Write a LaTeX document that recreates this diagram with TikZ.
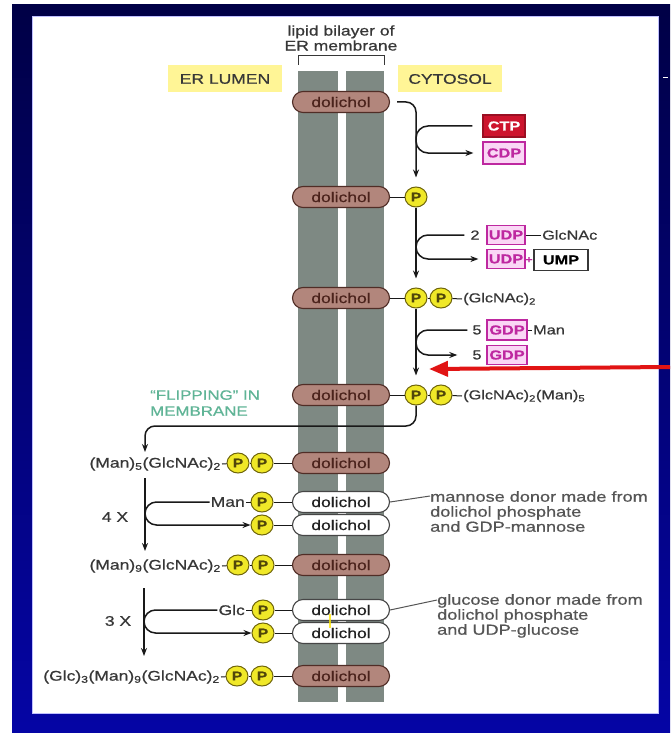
\documentclass[tikz,border=0pt]{standalone}
\usepackage{fontspec}
\setmainfont{Liberation Sans}[FakeStretch=1.25, FakeBold=0.7]
\usetikzlibrary{arrows.meta,shapes.geometric}
\definecolor{navyA}{RGB}{0,0,70}
\definecolor{navyB}{RGB}{5,5,165}
\definecolor{memb}{RGB}{126,137,131}
\definecolor{dolfill}{RGB}{178,134,124}
\definecolor{doldraw}{RGB}{80,45,38}
\definecolor{doltext}{RGB}{75,35,28}
\definecolor{pfill}{RGB}{240,232,40}
\definecolor{pdraw}{RGB}{110,100,10}
\definecolor{ptext}{RGB}{80,70,10}
\definecolor{mag}{RGB}{190,40,160}
\definecolor{pinkf}{RGB}{250,215,245}
\definecolor{ctpred}{RGB}{205,20,45}
\definecolor{hl}{RGB}{255,245,150}
\definecolor{txt}{RGB}{55,55,55}
\definecolor{annot}{RGB}{85,85,85}
\definecolor{lin}{RGB}{25,25,25}
\definecolor{flipg}{RGB}{95,180,150}
\definecolor{redarr}{RGB}{225,20,20}
\newcommand{\myfa}{\fontsize{13}{15}\selectfont}
\newcommand{\myfb}{\fontsize{14}{16}\selectfont}
\newcommand{\myfdol}{\fontsize{14}{16}\selectfont}
\newcommand{\myfhead}{\fontsize{14}{16}\selectfont}
\newcommand{\myfann}{\fontsize{14.5}{15}\selectfont}
\newcommand{\myfp}{\fontsize{12.5}{14}\selectfont\bfseries}
\newcommand{\myfbx}{\fontsize{13}{14}\selectfont\bfseries}
\begin{document}
\begin{tikzpicture}[x=1pt,y=-1pt,
  dol/.style={rounded corners=10.5pt, draw=doldraw, fill=dolfill, line width=1.1pt,
    minimum width=97pt, minimum height=21pt, inner sep=0pt, text=doltext, font=\myfdol},
  dolw/.style={dol, fill=white, draw=gray!55!black, text=gray!25!black},
  pnode/.style={ellipse, draw=pdraw, fill=pfill, line width=1pt, minimum width=22pt,
    minimum height=20pt, inner sep=0pt, text=ptext, font=\myfp},
  pinkbox/.style={draw=mag, fill=pinkf, text=mag, line width=1.2pt, inner sep=0pt,
    minimum width=38pt, minimum height=19pt, font=\myfbx},
  lbl/.style={font=\myfa, text=txt, inner sep=1pt},
  lblb/.style={font=\myfb, text=txt, inner sep=1pt},
  link/.style={draw=lin, line width=1pt},
  conn/.style={draw=lin, line width=1.5pt},
  arr/.style={conn, -{Stealth[length=8pt,width=6pt]}},
  hlbox/.style={fill=hl, font=\myfhead, text=txt, minimum height=27pt, inner sep=0pt}
]
\useasboundingbox (0,0) rectangle (670,733);
% frame
\fill[white] (0,0) rectangle (670,733);
\shade[top color=navyA, bottom color=navyB] (12,5) rectangle (670,733);
\fill[white, draw=blue!25, line width=1pt] (32,17) rectangle (658,713);
\draw[white, line width=1pt] (663,78) -- (668,78);

% membrane
\fill[memb] (298,71) rectangle (338,702);
\fill[memb] (346,71) rectangle (384,702);
\draw[txt, line width=0.8pt] (298,65) -- (298,55) -- (384,55) -- (384,65);
\node[font=\myfhead, text=txt, align=center, inner sep=0pt] (lipid) at (341,38)
  {lipid bilayer of\\[-1pt]ER membrane};
\node[hlbox, minimum width=114pt] (lumen) at (225,79) {ER LUMEN};
\node[hlbox, minimum width=104pt] (cyto) at (450,79) {CYTOSOL};

% cytosol-side dolichols
\node[dol] (d1) at (341,102) {dolichol};
\node[dol] (d2) at (341,197) {dolichol};
\node[dol] (d3) at (341,298) {dolichol};
\node[dol] (d4) at (341,395) {dolichol};
\node[pnode] (p21) at (416,197) {P};
\node[pnode] (p31) at (416,298) {P};
\node[pnode] (p32) at (441,298) {P};
\node[pnode] (p41) at (416,395) {P};
\node[pnode] (p42) at (441,395) {P};
\draw[link] (d2) -- (p21);
\draw[link] (d3) -- (p31); \draw[link] (p31) -- (p32);
\draw[link] (d4) -- (p41); \draw[link] (p41) -- (p42);
\node[lbl, anchor=west] (g3) at (462,299) {(GlcNAc)\textsubscript{2}};
\node[lbl, anchor=west] (g4) at (462,396) {(GlcNAc)\textsubscript{2}(Man)\textsubscript{5}};
\draw[link] (p32) -- (g3.west);
\draw[link] (p42) -- (g4.west);

% CTP / CDP
\node[pinkbox, fill=ctpred, draw=ctpred!75!black, text=white, minimum width=42pt, minimum height=22pt] (ctp) at (504,126) {CTP};
\node[pinkbox, minimum width=42pt, minimum height=22pt] (cdp) at (504,153) {CDP};
\draw[arr, rounded corners=10pt] ([xshift=7pt]d1.east) -| ([yshift=9pt]p21.north);
\draw[arr, rounded corners=12pt] ([xshift=-10pt]ctp.west) -- (ctp.west -| p21) -- (cdp.west -| p21) -- ([xshift=-9pt]cdp.west);

% UDP-GlcNAc
\node[lbl] (n2) at (475,235) {2};
\node[pinkbox] (udp1) at (506,235) {UDP};
\node[lbl, anchor=west] (glcnac) at (541,235) {GlcNAc};
\draw[link] (udp1) -- (glcnac);
\node[pinkbox] (udp2) at (506,259) {UDP};
\node[pinkbox, fill=white, draw=txt, text=black, minimum width=54pt, minimum height=21pt] (ump) at (561,260) {UMP};
\node[font=\fontsize{10}{12}\selectfont\bfseries, text=mag, inner sep=0pt] (plus) at (529,260) {+};
\draw[arr] (p21.south) -- ([yshift=9pt]p31.north);
\draw[arr, rounded corners=12pt] ([xshift=-5pt]n2.west) -- (n2.west -| p21) -- (udp2.west -| p21) -- ([xshift=-8pt]udp2.west);

% GDP-Man
\node[lbl] (n5a) at (477,330) {5};
\node[pinkbox, minimum width=40pt, minimum height=20pt] (gdp1) at (507,330) {GDP};
\node[lbl, anchor=west] (manc) at (532,330) {Man};
\draw[link] (gdp1) -- (manc);
\node[lbl] (n5b) at (477,355) {5};
\node[pinkbox, minimum width=40pt, minimum height=19pt] (gdp2) at (507,355) {GDP};
\draw[arr] (p31.south) -- ([yshift=9pt]p41.north);
\draw[arr, rounded corners=12pt] ([xshift=-4pt]n5a.west) -- (n5a.west -| p31) -- (n5b.west -| p31) -- ([xshift=-14pt]n5b.west);

% red arrow
\coordinate (redstart) at (670,367);
\coordinate (redtip) at (429,369);
\draw[redarr, line width=4pt, -{Triangle[length=19pt,width=15pt]}] (redstart) -- (redtip);

% flipping
\node[font=\fontsize{13.5}{15}\selectfont, text=flipg, align=left, anchor=west, inner sep=0pt] (flip) at (150,403)
  {“FLIPPING” IN\\[1pt]MEMBRANE};
\coordinate (fl) at (145,426);
\coordinate (fltip) at (145,452);
\draw[arr, rounded corners=10pt] (p41.south) -- (p41.south |- fl) -- (fl) -- (fltip);

% lumen-side rows
\node[dol] (d5) at (341,463) {dolichol};
\node[pnode] (p52) at (262,463) {P};
\node[pnode] (p51) at (238,463) {P};
\node[lblb, anchor=east] (t5) at (222,464) {(Man)\textsubscript{5}(GlcNAc)\textsubscript{2}};
\draw[link] (t5.east) -- (p51); \draw[link] (p51) -- (p52); \draw[link] (p52) -- (d5);

\node[dolw] (d6) at (341,502) {dolichol};
\node[pnode] (p6) at (262,502) {P};
\node[lblb, anchor=east] (man6) at (246,502) {Man};
\draw[link] (man6) -- (p6); \draw[link] (p6) -- (d6);

\node[dolw] (d7) at (341,525) {dolichol};
\node[pnode] (p7) at (262,525) {P};
\draw[link] (p7) -- (d7);

\node[dol] (d8) at (341,565) {dolichol};
\node[pnode] (p82) at (263,565) {P};
\node[pnode] (p81) at (238,565) {P};
\node[lblb, anchor=east] (t8) at (222,566) {(Man)\textsubscript{9}(GlcNAc)\textsubscript{2}};
\draw[link] (t8.east) -- (p81); \draw[link] (p81) -- (p82); \draw[link] (p82) -- (d8);

\node[dolw] (d9) at (341,610) {dolichol};
\node[pnode] (p9) at (263,610) {P};
\node[lblb, anchor=east] (glc9) at (246,610) {Glc};
\draw[link] (glc9) -- (p9); \draw[link] (p9) -- (d9);

\node[dolw] (d10) at (341,633) {dolichol};
\node[pnode] (p10) at (263,633) {P};
\draw[link] (p10) -- (d10);
\draw[yellow!90!orange, line width=2.5pt, opacity=0.8] (330,614) -- (330,628);

\node[dol] (d11) at (341,676) {dolichol};
\node[pnode] (p112) at (262,676) {P};
\node[pnode] (p111) at (237,676) {P};
\node[lblb, anchor=east] (t11) at (221,677) {(Glc)\textsubscript{3}(Man)\textsubscript{9}(GlcNAc)\textsubscript{2}};
\draw[link] (t11.east) -- (p111); \draw[link] (p111) -- (p112); \draw[link] (p112) -- (d11);

% 4 X
\coordinate (v4a) at (145,478);
\coordinate (v4b) at (145,551);
\draw[arr] (v4a) -- (v4b);
\draw[arr, rounded corners=11.5pt] (man6.west) -- (man6.west -| v4a) -- (p7.west -| v4a) -- (p7.west);
\node[lblb] (x4) at (115,517) {4 X};

% 3 X
\coordinate (v3a) at (144,588);
\coordinate (v3b) at (144,656);
\draw[arr] (v3a) -- (v3b);
\draw[arr, rounded corners=11.5pt] (glc9.west) -- (glc9.west -| v3a) -- (p10.west -| v3a) -- (p10.west);
\node[lblb] (x3) at (118,621) {3 X};

% annotations
\node[font=\myfann, text=annot, align=left, anchor=north west, inner sep=0pt] (ann1) at (430,491)
  {mannose donor made from\\dolichol phosphate\\and GDP-mannose};
\draw[conn, line width=1pt, draw=annot] (d6.east) -- ([yshift=-5pt]ann1.north west);
\node[font=\myfann, text=annot, align=left, anchor=north west, inner sep=0pt] (ann2) at (437,594)
  {glucose donor made from\\dolichol phosphate\\and UDP-glucose};
\draw[conn, line width=1pt, draw=annot] (d9.east) -- ([yshift=-6pt]ann2.north west);
\end{tikzpicture}
\end{document}
